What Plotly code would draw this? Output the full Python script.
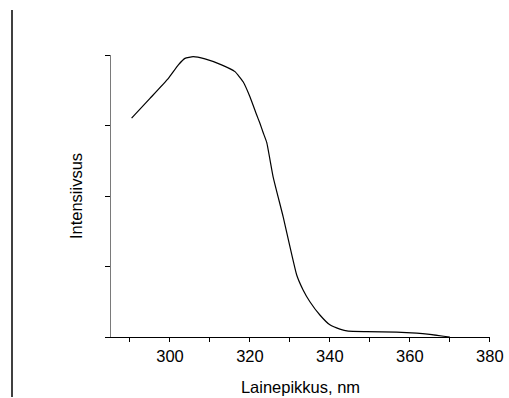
import plotly.graph_objects as go

wavelength = [290.4, 295.0, 299.6, 302.1, 303.75, 305.8, 308.75, 312.9, 316.25, 318.3,
              320.0, 321.7, 322.5, 323.3, 324.2, 325.8, 328.3, 331.7, 333.3,
              335.0, 337.5, 340.0, 342.5, 344.6, 349.2, 356.7, 361.7, 365.0, 370.0]
intensity = [0.776, 0.846, 0.917, 0.965, 0.988, 0.994, 0.986, 0.965, 0.941, 0.905,
             0.852, 0.787, 0.758, 0.725, 0.690, 0.568, 0.427, 0.220, 0.167,
             0.125, 0.078, 0.043, 0.028, 0.021, 0.019, 0.017, 0.014, 0.0096, 0.0]

x_ticks = [300, 320, 340, 360, 380]
y_ticks = [0, 0.25, 0.5, 0.75, 1.0]

FONT = "Liberation Sans, Arial, sans-serif"

fig = go.Figure(go.Scatter(x=wavelength, y=intensity, mode="lines",
                           line=dict(color="black", width=1.2, shape="spline", smoothing=0.4),
                           showlegend=False, hoverinfo="skip"))

W, H = 509, 398
L, R, T, B = 111, 19, 55, 61
pw, ph = W - L - R, H - T - B

def px(x):
    return (x - L) / pw

def py(y):
    return (H - B - y) / ph

fig.add_shape(type="line", xref="paper", yref="paper",
              x0=px(12), x1=px(12), y0=py(10), y1=py(397),
              line=dict(color="black", width=1.5))

fig.update_layout(
    width=W, height=H,
    margin=dict(l=L, r=R, t=T, b=B, autoexpand=False),
    paper_bgcolor="white", plot_bgcolor="white",
    font=dict(family=FONT, size=16.5, color="black"),
    xaxis=dict(range=[285.25, 380.05], tickvals=x_ticks, ticktext=[str(v) for v in x_ticks],
               showline=True, linecolor="black", linewidth=1,
               ticks="outside", ticklen=4, tickcolor="black", tickwidth=1,
               minor=dict(ticks="outside", ticklen=4, tickvals=[290, 310, 330, 350, 370],
                          tickcolor="black", tickwidth=1, showgrid=False),
               showgrid=False, zeroline=False,
               title=dict(text="Lainepikkus, nm", standoff=17,
                          font=dict(family=FONT, size=16.5))),
    yaxis=dict(range=[0, 1], tickvals=y_ticks, showticklabels=False,
               showline=True, linecolor="#7a7a7a", linewidth=1.2,
               ticks="outside", ticklen=5, tickcolor="black", tickwidth=1,
               showgrid=False, zeroline=False,
               title=dict(text="Intensiivsus", standoff=18,
                          font=dict(family=FONT, size=16.5))),
)

fig.write_html("out.html", config={"displayModeBar": False, "staticPlot": True},
               post_script="document.body.style.margin='0';document.body.style.overflow='hidden';")
